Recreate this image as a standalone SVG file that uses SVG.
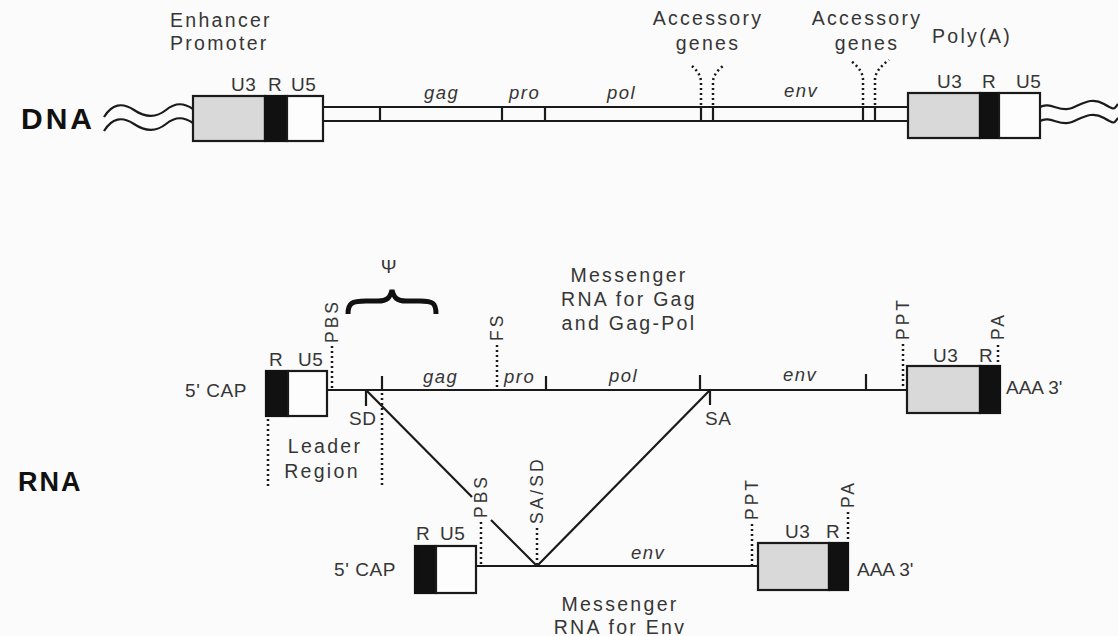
<svg xmlns="http://www.w3.org/2000/svg" width="1118" height="636" viewBox="0 0 1118 636">
<style>
.t{font-family:"Liberation Sans",Arial,sans-serif;fill:#363636;font-size:19.5px;letter-spacing:2.3px}
.s{font-family:"Liberation Sans",Arial,sans-serif;fill:#363636;font-size:19px;letter-spacing:0.6px}
.i{font-family:"Liberation Sans",Arial,sans-serif;fill:#363636;font-size:18.5px;font-style:italic;letter-spacing:1.5px}
.v{font-family:"Liberation Sans",Arial,sans-serif;fill:#363636;font-size:17.5px;letter-spacing:3px}
.b{font-family:"Liberation Sans",Arial,sans-serif;fill:#111;font-weight:bold}
.ln{stroke:#1a1a1a;stroke-width:2.2;fill:none}
.dl{stroke:#1a1a1a;stroke-width:2.5;fill:none;stroke-dasharray:2 3}
.gray{fill:#d9d9d9;stroke:#1a1a1a;stroke-width:2.2}
.blk{fill:#111;stroke:#111;stroke-width:2.2}
.wht{fill:#fdfdfd;stroke:#1a1a1a;stroke-width:2.2}
</style>
<rect width="1118" height="636" fill="#fbfbfb"/>

<g id="connectors">
  <!-- DNA double line -->
  <line class="ln" x1="323" y1="107" x2="908" y2="107"/>
  <line class="ln" x1="323" y1="121" x2="908" y2="121"/>
  <!-- DNA left waves -->
  <path class="ln" d="M104,117 C112,104 122,102 134,110 S156,118 166,110 S184,103 193,109"/>
  <path class="ln" d="M104,131 C112,118 122,116 134,124 S156,132 166,124 S184,117 193,123"/>
  <!-- DNA right waves -->
  <path class="ln" d="M1040,107 C1050,101 1060,113 1072,108 S1092,97 1104,104 S1114,109 1118,104"/>
  <path class="ln" d="M1040,121 C1050,115 1060,127 1072,122 S1092,111 1104,118 S1114,123 1118,118"/>
  <!-- upper mRNA line -->
  <line class="ln" x1="327" y1="390" x2="907" y2="390"/>
  <!-- lower mRNA line -->
  <line class="ln" x1="476" y1="566" x2="758" y2="566"/>
  <!-- splice V -->
  <line class="ln" x1="366" y1="390" x2="472" y2="497"/>
  <line class="ln" x1="491" y1="520" x2="537" y2="566"/>
  <line class="ln" x1="537" y1="566" x2="710" y2="390"/>
  <!-- leader region dotted -->
  <line class="dl" x1="268" y1="419" x2="268" y2="486"/>
  <line class="dl" x1="382" y1="393" x2="382" y2="486"/>
</g>

<g id="dna-label"><text class="b" x="21" y="129" style="font-size:30px;letter-spacing:3px">DNA</text></g>
<g id="rna-label"><text class="b" x="18" y="491" style="font-size:27px;letter-spacing:2px">RNA</text></g>

<g id="dna-ltr-left">
  <rect class="gray" x="193" y="96" width="72" height="45"/>
  <rect class="blk" x="265" y="96" width="22" height="45"/>
  <rect class="wht" x="287" y="96" width="36" height="45"/>
  <text class="s" x="231" y="91">U3</text>
  <text class="s" x="268" y="91">R</text>
  <text class="s" x="291" y="91">U5</text>
  <text class="t" x="170" y="27">Enhancer</text>
  <text class="t" x="170" y="50">Promoter</text>
</g>

<g id="dna-genes">
  <line class="ln" x1="380" y1="107" x2="380" y2="121"/>
  <line class="ln" x1="502" y1="107" x2="502" y2="121"/>
  <line class="ln" x1="545" y1="107" x2="545" y2="121"/>
  <line class="ln" x1="701" y1="107" x2="701" y2="121"/>
  <line class="ln" x1="713" y1="107" x2="713" y2="121"/>
  <line class="ln" x1="863" y1="107" x2="863" y2="121"/>
  <line class="ln" x1="875" y1="107" x2="875" y2="121"/>
  <text class="i" x="424" y="99">gag</text>
  <text class="i" x="509" y="99">pro</text>
  <text class="i" x="607" y="99">pol</text>
  <text class="i" x="784" y="97">env</text>
</g>

<g id="accessory-1">
  <path class="dl" d="M701,105 L701,82 Q701,74 692,66"/>
  <path class="dl" d="M713,105 L713,82 Q713,74 723,66"/>
  <text class="t" x="708" y="25" text-anchor="middle">Accessory</text>
  <text class="t" x="708" y="50" text-anchor="middle">genes</text>
</g>

<g id="accessory-2">
  <path class="dl" d="M863,105 L863,80 Q863,70 851,61"/>
  <path class="dl" d="M875,105 L875,80 Q875,70 889,60"/>
  <text class="t" x="867" y="25" text-anchor="middle">Accessory</text>
  <text class="t" x="867" y="50" text-anchor="middle">genes</text>
</g>

<g id="dna-ltr-right">
  <rect class="gray" x="908" y="93" width="72" height="45"/>
  <rect class="blk" x="980" y="93" width="19" height="45"/>
  <rect class="wht" x="999" y="93" width="41" height="45"/>
  <text class="s" x="937" y="88">U3</text>
  <text class="s" x="982" y="88">R</text>
  <text class="s" x="1016" y="88">U5</text>
  <text class="t" x="932" y="43">Poly(A)</text>
</g>

<g id="mrna-gag-left">
  <rect class="blk" x="266" y="371" width="22" height="45"/>
  <rect class="wht" x="288" y="371" width="39" height="45"/>
  <text class="s" x="269" y="366">R</text>
  <text class="s" x="298" y="366">U5</text>
  <text class="s" x="185" y="397">5' CAP</text>
</g>

<g id="mrna-gag-features">
  <line class="dl" x1="332" y1="346" x2="332" y2="389"/>
  <text class="v" transform="translate(338,343) rotate(-90)">PBS</text>
  <path d="M348,314 C348,303 352,301 366,301 L378,301 C387,301 390,298 392,290 C394,298 397,301 406,301 L420,301 C433,301 436,303 436,314" fill="none" stroke="#111" stroke-width="5"/>
  <text class="s" x="389" y="273" text-anchor="middle">Ψ</text>
  <line class="ln" x1="382" y1="376" x2="382" y2="390"/>
  <line class="ln" x1="366" y1="390" x2="366" y2="406"/>
  <text class="s" x="349" y="425">SD</text>
  <text class="i" x="423" y="383">gag</text>
  <line class="dl" x1="497" y1="345" x2="497" y2="389"/>
  <text class="v" transform="translate(503,341) rotate(-90)">FS</text>
  <text class="i" x="504" y="383">pro</text>
  <line class="ln" x1="546" y1="376" x2="546" y2="390"/>
  <text class="i" x="609" y="382">pol</text>
  <line class="ln" x1="700" y1="375" x2="700" y2="390"/>
  <line class="ln" x1="710" y1="390" x2="710" y2="405"/>
  <text class="s" x="705" y="425">SA</text>
  <text class="i" x="783" y="381">env</text>
  <line class="ln" x1="866" y1="374" x2="866" y2="390"/>
  <line class="dl" x1="903" y1="344" x2="903" y2="389"/>
  <text class="v" transform="translate(909,340) rotate(-90)">PPT</text>
  <text class="t" x="629" y="282" text-anchor="middle">Messenger</text>
  <text class="t" x="629" y="306" text-anchor="middle">RNA for Gag</text>
  <text class="t" x="629" y="330" text-anchor="middle">and Gag-Pol</text>
</g>

<g id="mrna-gag-right">
  <rect class="gray" x="907" y="366" width="73" height="47"/>
  <rect class="blk" x="980" y="366" width="20" height="47"/>
  <text class="s" x="933" y="362">U3</text>
  <text class="s" x="979" y="362">R</text>
  <line class="dl" x1="998" y1="345" x2="998" y2="365"/>
  <text class="v" transform="translate(1004,340) rotate(-90)">PA</text>
  <text class="s" x="1006" y="394" style="letter-spacing:0">AAA 3'</text>
</g>

<g id="leader-region">
  <text class="t" x="325" y="453" text-anchor="middle">Leader</text>
  <text class="t" x="322" y="478" text-anchor="middle">Region</text>
</g>

<g id="mrna-env-left">
  <rect class="blk" x="415" y="546" width="21" height="47"/>
  <rect class="wht" x="436" y="546" width="40" height="47"/>
  <text class="s" x="416" y="540">R</text>
  <text class="s" x="440" y="540">U5</text>
  <text class="s" x="334" y="576">5' CAP</text>
</g>

<g id="mrna-env-features">
  <line class="dl" x1="481" y1="522" x2="481" y2="565"/>
  <text class="v" transform="translate(487,518) rotate(-90)">PBS</text>
  <line class="dl" x1="537" y1="528" x2="537" y2="564"/>
  <text class="v" transform="translate(543,524) rotate(-90)">SA/SD</text>
  <text class="i" x="631" y="559">env</text>
  <line class="dl" x1="752" y1="524" x2="752" y2="565"/>
  <text class="v" transform="translate(758,520) rotate(-90)">PPT</text>
  <text class="t" x="620" y="611" text-anchor="middle">Messenger</text>
  <text class="t" x="620" y="634" text-anchor="middle">RNA for Env</text>
</g>

<g id="mrna-env-right">
  <rect class="gray" x="758" y="543" width="71" height="47"/>
  <rect class="blk" x="829" y="543" width="19" height="47"/>
  <text class="s" x="785" y="538">U3</text>
  <text class="s" x="826" y="538">R</text>
  <line class="dl" x1="848" y1="512" x2="848" y2="542"/>
  <text class="v" transform="translate(854,508) rotate(-90)">PA</text>
  <text class="s" x="857" y="576" style="letter-spacing:0">AAA 3'</text>
</g>
</svg>
